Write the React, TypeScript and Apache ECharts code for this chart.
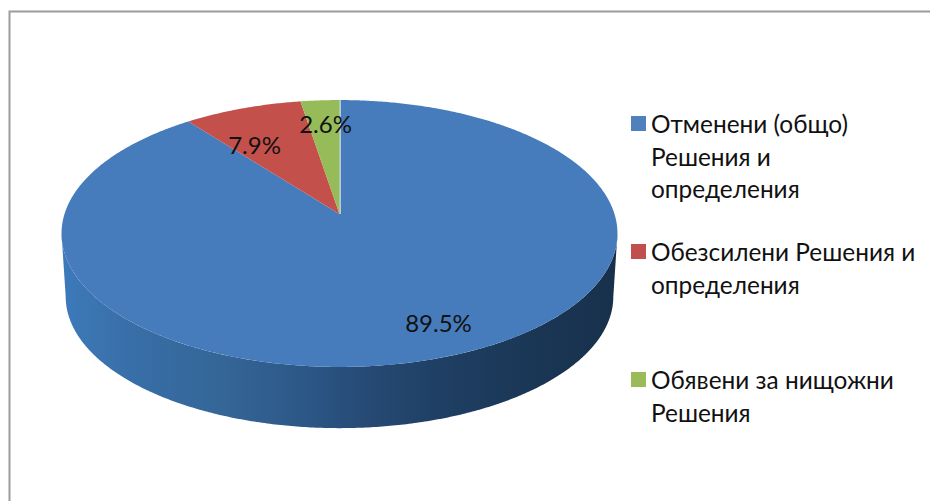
import React, { useEffect, useRef } from "react";
import * as echarts from "echarts";

const categories = [
  "Отменени (общо)\nРешения и\nопределения",
  "Обезсилени Решения и\nопределения",
  "Обявени за нищожни\nРешения",
];
const values = [89.5, 7.9, 2.6];
const sliceColors = ["#477CBC", "#C4504C", "#95BC58"];
const legendColors = ["#4F81BD", "#C0504D", "#9BBB59"];

// layout of the perspective disc
const CX = 339.5, CY = 214;
const RX = 275, RY = 130.6, PERSP = 0.146;
const DEPTH = 63.5, BOTTOM_SCALE = 0.985;
const LABEL_OFFSETS = [[99, 108], [-85, -70], [-14, -91]];
const LEGEND_CENTERS = [123.5, 251.5, 379.5];
const FONT = "Lato, Carlito, 'Open Sans', sans-serif";
const LINE_H = 32.5;

const project = (deg: number, scale = 1, dy = 0) => {
  const t = (deg * Math.PI) / 180;
  const w = 1 + PERSP * Math.cos(t);
  return [
    CX + (scale * RX * Math.sin(t)) / w,
    CY + dy - (scale * RY * Math.cos(t)) / w,
  ];
};

const arc = (a: number, b: number, scale = 1, dy = 0) => {
  const pts: number[][] = [];
  const n = Math.max(2, Math.ceil(Math.abs(b - a) * 2));
  for (let i = 0; i <= n; i++) pts.push(project(a + ((b - a) * i) / n, scale, dy));
  return pts;
};

const total = values.reduce((s, v) => s + v, 0);
const starts = values.map((_, i) => values.slice(0, i).reduce((s, v) => s + v, 0));

const makeRenderItem = (idx: number) => (_p: any, api: any) => {
  const start = (api.value(1) / total) * 360;
  const end = start + (api.value(0) / total) * 360;
  const children: any[] = [];
  if (idx === 0) {
    const edge = (Math.acos(-PERSP) * 180) / Math.PI;
    const top = arc(edge, 360 - edge);
    const bottom = arc(360 - edge, edge, BOTTOM_SCALE, DEPTH);
    children.push({
      type: "polygon",
      shape: { points: top.concat(bottom) },
      style: {
        fill: new echarts.graphic.LinearGradient(0, 0, 1, 0, [
          { offset: 0, color: "#3D7ABA" },
          { offset: 0.12, color: "#386FA8" },
          { offset: 0.3, color: "#346596" },
          { offset: 0.45, color: "#2B5685" },
          { offset: 0.55, color: "#264A74" },
          { offset: 0.7, color: "#1E3E62" },
          { offset: 0.88, color: "#1A3553" },
          { offset: 1, color: "#17304C" },
        ]),
      },
    });
  }
  children.push({
    type: "polygon",
    shape: { points: [[CX, CY]].concat(arc(start, end)) },
    style: { fill: sliceColors[idx] },
  });
  if (idx === 0) {
    children.push({
      type: "line",
      shape: { x1: CX + 0.5, y1: CY, x2: CX + 0.5, y2: CY - RY / (1 + PERSP) },
      style: { stroke: "#D5E2EE", lineWidth: 1.5 },
    });
  }
  children.push({
    type: "text",
    z2: 50,
    x: CX + LABEL_OFFSETS[idx][0],
    y: CY + LABEL_OFFSETS[idx][1],
    style: {
      text: `${api.value(0).toFixed(1)}%`,
      fill: "#111",
      font: `24px ${FONT}`,
      align: "center",
      verticalAlign: "middle",
    },
  });
  return { type: "group", children };
};

export default function App() {
  const ref = useRef<HTMLDivElement>(null);
  useEffect(() => {
    document.body.style.margin = "0";
    const chart = echarts.init(ref.current!, undefined, { renderer: "svg" });
    chart.setOption({
      animation: false,
      backgroundColor: "#fff",
      legend: categories.map((name, i) => {
        const extra = name.split("\n").length - 1;
        return {
          left: 631,
          top: LEGEND_CENTERS[i] - (extra + 0.5) * LINE_H,
          padding: 0,
          orient: "vertical",
          itemWidth: 15,
          itemHeight: 15,
          icon: "rect",
          selectedMode: false,
          data: [{ name, itemStyle: { color: legendColors[i] } }],
          // leading blank lines keep the swatch level with the first line of the text
          formatter: (n: string) => "\n".repeat(extra) + n,
          textStyle: {
            fontFamily: FONT,
            fontSize: 24.4,
            color: "#111",
            lineHeight: LINE_H,
          },
        };
      }),
      graphic: [
        {
          type: "polyline",
          shape: { points: [[9.5, 501], [9.5, 11.5], [930, 11.5]] },
          style: { stroke: "#9C9C9C", lineWidth: 2, fill: "none" },
        },
      ],
      series: categories.map((name, i) => ({
        type: "custom",
        name,
        coordinateSystem: "none",
        color: legendColors[i],
        renderItem: makeRenderItem(i),
        data: [[values[i], starts[i]]],
      })),
    });
    return () => chart.dispose();
  }, []);
  return (
    <div
      ref={ref}
      style={{ position: "absolute", left: 0, top: 0, width: 930, height: 501 }}
    />
  );
}
